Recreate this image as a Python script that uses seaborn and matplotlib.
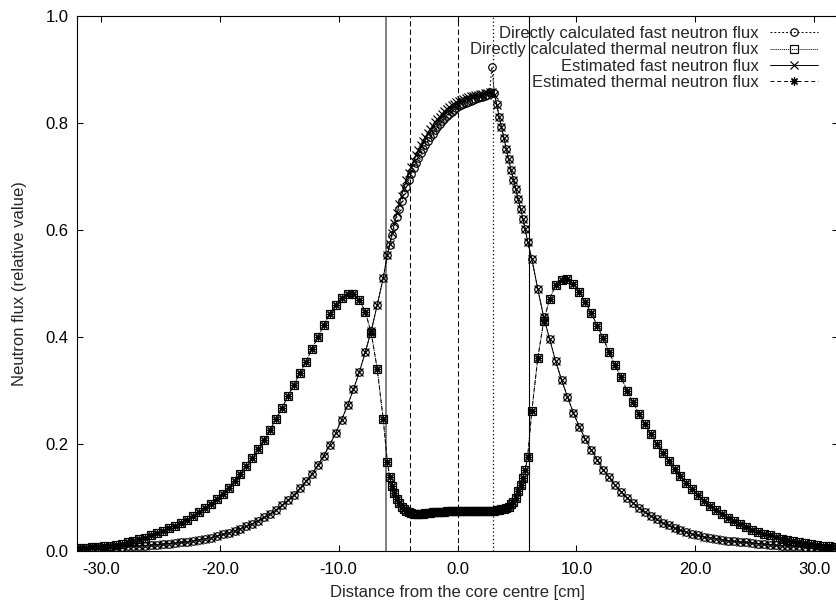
import matplotlib
matplotlib.use("Agg")
import matplotlib.pyplot as plt
import seaborn as sns

# ---------------- data ----------------
x_left = [-31.75, -31.25, -30.75, -30.25, -29.75, -29.25, -28.75, -28.25, -27.75, -27.25,
          -26.75, -26.25, -25.75, -25.25, -24.75, -24.25, -23.75, -23.25, -22.75, -22.25,
          -21.75, -21.25, -20.75, -20.25, -19.75, -19.25, -18.75, -18.25, -17.75, -17.25,
          -16.75, -16.25, -15.75, -15.25, -14.75, -14.25, -13.75, -13.25, -12.75, -12.25,
          -11.75, -11.25, -10.75, -10.25, -9.75, -9.25, -8.75, -8.25, -7.75, -7.25,
          -6.75, -6.25]
x_core = [-5.9, -5.7, -5.5, -5.3, -5.1, -4.9, -4.7, -4.5, -4.3, -4.1,
          -3.9, -3.7, -3.5, -3.3, -3.1, -2.9, -2.7, -2.5, -2.3, -2.1,
          -1.9, -1.7, -1.5, -1.3, -1.1, -0.9, -0.7, -0.5, -0.3, -0.1,
          0.1, 0.3, 0.5, 0.7, 0.9, 1.1, 1.3, 1.5, 1.7, 1.9,
          2.1, 2.3, 2.5, 2.7, 2.9, 3.1, 3.3, 3.5, 3.7, 3.9,
          4.1, 4.3, 4.5, 4.7, 4.9, 5.1, 5.3, 5.5, 5.7, 5.9]
x_right = [6.25, 6.75, 7.25, 7.75, 8.25, 8.75, 9.25, 9.75, 10.25, 10.75,
           11.25, 11.75, 12.25, 12.75, 13.25, 13.75, 14.25, 14.75, 15.25, 15.75,
           16.25, 16.75, 17.25, 17.75, 18.25, 18.75, 19.25, 19.75, 20.25, 20.75,
           21.25, 21.75, 22.25, 22.75, 23.25, 23.75, 24.25, 24.75, 25.25, 25.75,
           26.25, 26.75, 27.25, 27.75, 28.25, 28.75, 29.25, 29.75, 30.25, 30.75,
           31.25, 31.75]

fast_left = [0.0045, 0.005, 0.0055, 0.006, 0.0065, 0.007, 0.0075, 0.008, 0.0085, 0.009,
             0.0095, 0.010, 0.011, 0.012, 0.013, 0.014, 0.015, 0.016, 0.017, 0.019,
             0.021, 0.023, 0.025, 0.028, 0.031, 0.034, 0.038, 0.042, 0.046, 0.051,
             0.057, 0.063, 0.070, 0.077, 0.086, 0.095, 0.105, 0.117, 0.130, 0.144,
             0.160, 0.178, 0.198, 0.220, 0.245, 0.272, 0.302, 0.335, 0.372, 0.412,
             0.460, 0.510]
fast_core_direct = [0.553, 0.572, 0.590, 0.608, 0.625, 0.640, 0.654, 0.668, 0.681, 0.693,
                    0.704, 0.715, 0.725, 0.734, 0.743, 0.751, 0.759, 0.766, 0.773, 0.780,
                    0.786, 0.792, 0.798, 0.803, 0.808, 0.813, 0.817, 0.821, 0.825, 0.828,
                    0.831, 0.834, 0.836, 0.838, 0.840, 0.842, 0.843, 0.845, 0.846, 0.848,
                    0.849, 0.851, 0.853, 0.858, 0.905, 0.856, 0.835, 0.812, 0.792, 0.772,
                    0.752, 0.732, 0.713, 0.694, 0.676, 0.658, 0.640, 0.621, 0.601, 0.578]
fast_core_est = [0.553, 0.574, 0.594, 0.613, 0.631, 0.648, 0.664, 0.679, 0.693, 0.706,
                 0.718, 0.729, 0.740, 0.749, 0.758, 0.766, 0.774, 0.781, 0.788, 0.795,
                 0.801, 0.807, 0.812, 0.817, 0.822, 0.826, 0.830, 0.833, 0.836, 0.839,
                 0.841, 0.843, 0.845, 0.847, 0.849, 0.850, 0.851, 0.852, 0.853, 0.854,
                 0.855, 0.856, 0.857, 0.858, 0.858, 0.853, 0.834, 0.812, 0.792, 0.772,
                 0.752, 0.732, 0.713, 0.694, 0.676, 0.658, 0.640, 0.621, 0.601, 0.578]
fast_right = [0.546, 0.490, 0.437, 0.396, 0.355, 0.320, 0.288, 0.258, 0.232, 0.209,
              0.189, 0.170, 0.152, 0.138, 0.123, 0.111, 0.100, 0.090, 0.081, 0.073,
              0.066, 0.059, 0.053, 0.048, 0.043, 0.039, 0.035, 0.032, 0.029, 0.026,
              0.025, 0.023, 0.021, 0.019, 0.018, 0.017, 0.016, 0.015, 0.014, 0.013,
              0.012, 0.011, 0.010, 0.0095, 0.009, 0.0085, 0.008, 0.0075, 0.007, 0.0065,
              0.0062, 0.006]

thermal_left = [0.005, 0.006, 0.007, 0.008, 0.009, 0.010, 0.012, 0.014, 0.016, 0.019,
                0.022, 0.025, 0.029, 0.033, 0.038, 0.043, 0.047, 0.052, 0.058, 0.065,
                0.072, 0.080, 0.088, 0.097, 0.107, 0.118, 0.131, 0.144, 0.158, 0.173,
                0.190, 0.208, 0.227, 0.247, 0.268, 0.290, 0.311, 0.333, 0.354, 0.377,
                0.400, 0.422, 0.443, 0.460, 0.473, 0.481, 0.481, 0.469, 0.447, 0.407,
                0.340, 0.247]
thermal_core = [0.167, 0.138, 0.121, 0.108, 0.097, 0.089, 0.083, 0.078, 0.075, 0.073,
                0.071, 0.070, 0.070, 0.070, 0.070, 0.070, 0.071, 0.071, 0.071, 0.072,
                0.072, 0.072, 0.073, 0.073, 0.073, 0.074, 0.074, 0.074, 0.074, 0.075,
                0.075, 0.075, 0.075, 0.075, 0.075, 0.075, 0.075, 0.075, 0.075, 0.075,
                0.075, 0.075, 0.075, 0.075, 0.075, 0.075, 0.076, 0.077, 0.078, 0.079,
                0.081, 0.083, 0.087, 0.092, 0.100, 0.112, 0.124, 0.137, 0.152, 0.176]
thermal_right = [0.262, 0.360, 0.430, 0.471, 0.497, 0.507, 0.508, 0.500, 0.484, 0.465,
                 0.445, 0.421, 0.398, 0.372, 0.347, 0.325, 0.300, 0.278, 0.257, 0.237,
                 0.218, 0.200, 0.184, 0.168, 0.153, 0.140, 0.127, 0.116, 0.104, 0.094,
                 0.085, 0.077, 0.069, 0.062, 0.056, 0.050, 0.045, 0.040, 0.036, 0.032,
                 0.029, 0.026, 0.023, 0.021, 0.019, 0.017, 0.015, 0.013, 0.012, 0.010,
                 0.009, 0.008]

boundary_left = [-6.0]
boundary_right = [6.0]
boundaries_dashed = [-4.0, 0.0]
boundaries_dotted = [3.0]

labels = ["Directly calculated fast neutron flux",
          "Directly calculated thermal neutron flux",
          "Estimated fast neutron flux",
          "Estimated thermal neutron flux"]
x_ticks = [-30, -20, -10, 0, 10, 20, 30]
y_ticks = [0.0, 0.2, 0.4, 0.6, 0.8, 1.0]

x_all = x_left + x_core + x_right
fast_direct = fast_left + fast_core_direct + fast_right
fast_est = fast_left + fast_core_est + fast_right
thermal_direct = thermal_left + thermal_core + thermal_right
thermal_est = thermal_left + thermal_core + thermal_right

# ---------------- style ----------------
sns.set_style("ticks")
plt.rcParams["font.family"] = ["Liberation Sans", "DejaVu Sans"]
plt.rcParams["font.size"] = 12

fig = plt.figure(figsize=(8.36, 6.04), dpi=100)
W, H = 836, 604
ax = fig.add_axes([77 / W, 1 - 551 / H, (838 - 77) / W, (551 - 16) / H])

for b in boundary_left:
    ax.axvline(b, color="#808080", lw=1.4, zorder=1)
for b in boundary_right:
    ax.axvline(b, color="black", lw=0.8, zorder=1)
for b in boundaries_dashed:
    ax.axvline(b, color="black", lw=0.75, ls=(0, (5, 3)), zorder=1)
for b in boundaries_dotted:
    ax.axvline(b, color="black", lw=0.9, ls=(0, (1, 2)), zorder=1)

ms = 5.4
mew = 0.85
common = dict(ax=ax, color="black", estimator=None, errorbar=None, sort=False)
sns.lineplot(x=x_all, y=fast_direct, marker="o", markersize=ms, markerfacecolor="none",
             markeredgecolor="black", markeredgewidth=mew, linestyle=(0, (2, 2)),
             linewidth=0.7, label=labels[0], **common)
sns.lineplot(x=x_all, y=thermal_direct, marker="s", markersize=ms, markerfacecolor="none",
             markeredgecolor="black", markeredgewidth=mew, linestyle=(0, (1, 1)),
             linewidth=0.7, label=labels[1], **common)
sns.lineplot(x=x_all, y=fast_est, marker="x", markersize=ms, markerfacecolor="none",
             markeredgecolor="black", markeredgewidth=mew, linestyle="-",
             linewidth=0.7, label=labels[2], **common)
sns.lineplot(x=x_all, y=thermal_est, marker=(8, 2, 0), markersize=ms + 0.5,
             markerfacecolor="none", markeredgecolor="black", markeredgewidth=mew,
             linestyle=(0, (4, 3)), linewidth=0.7, label=labels[3], **common)

ax.set_xlim(-32, 32)
ax.set_ylim(0, 1)
ax.set_xticks(x_ticks)
ax.set_xticklabels([f"{v:.1f}" for v in x_ticks])
ax.set_yticks(y_ticks)
ax.set_yticklabels([f"{v:.1f}" for v in y_ticks])
ax.tick_params(direction="in", length=4.5, width=0.75, top=True, right=True,
               labelsize=12, colors="black")
ax.tick_params(axis="x", pad=8)
ax.tick_params(axis="y", pad=6)
for s in ax.spines.values():
    s.set_visible(True)
    s.set_linewidth(0.8)
    s.set_color("black")

ax.set_xlabel("Distance from the core centre [cm]", fontsize=12)
ax.set_ylabel("Neutron flux (relative value)", fontsize=12)
ax.xaxis.set_label_coords(0.5, (551 - 585) / 535)
ax.yaxis.set_label_coords((27 - 77) / 761, 0.5)

leg = ax.legend(loc="upper right", bbox_to_anchor=((818 - 77) / 761, (551 - 26) / 535),
                frameon=False, markerfirst=False, handlelength=2.9, handletextpad=0.65,
                labelspacing=0.08, borderpad=0, borderaxespad=0, fontsize=12)
for col in leg._legend_handle_box.get_children():
    col.align = "right"

fig.savefig("out.png", dpi=100)
